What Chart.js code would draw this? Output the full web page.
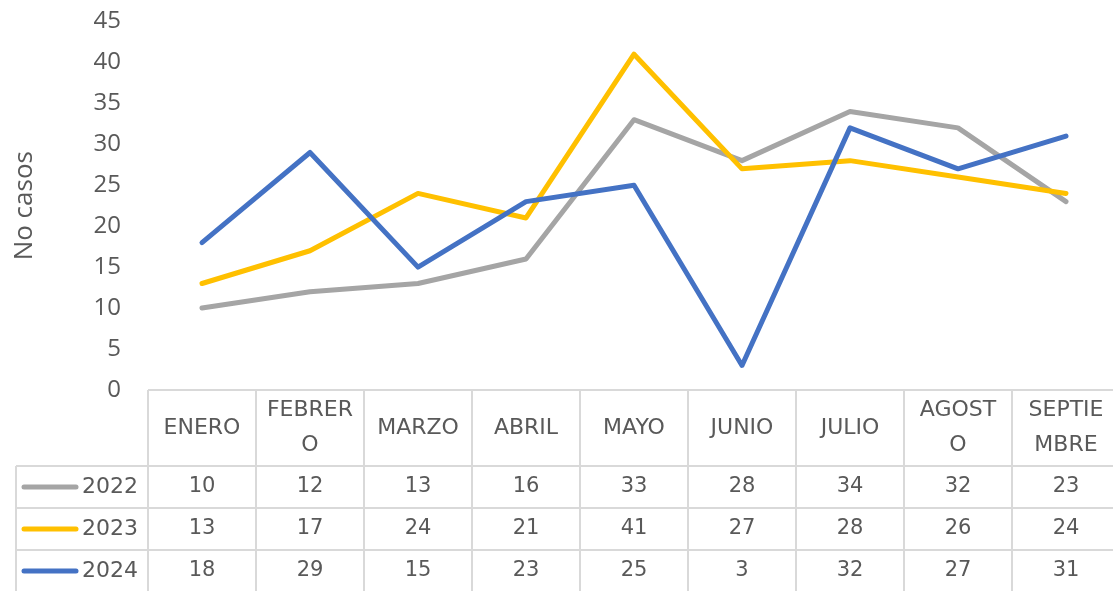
<!DOCTYPE html>
<html>
<head>
<meta charset="utf-8">
<script src="https://cdn.jsdelivr.net/npm/chart.js@4.4.0/dist/chart.umd.min.js"></script>
<style>
  body { margin: 0; background: #fff; overflow: hidden; }
  #wrap { width: 1121px; height: 611px; margin-top: -20px; }
</style>
</head>
<body>
<div id="wrap"><canvas id="canvas-chart" width="1121" height="611"></canvas></div>
<script>
const categories = ['ENERO', ['FEBRER', 'O'], 'MARZO', 'ABRIL', 'MAYO', 'JUNIO', 'JULIO', ['AGOST', 'O'], ['SEPTIE', 'MBRE']];
const years = ['2022', '2023', '2024'];
const casos2022 = [10, 12, 13, 16, 33, 28, 34, 32, 23];
const casos2023 = [13, 17, 24, 21, 41, 27, 28, 26, 24];
const casos2024 = [18, 29, 15, 23, 25, 3, 32, 27, 31];
const yMax = 45;
const yStep = 5;

const colors = ['#A5A5A5', '#FFC000', '#4472C4'];
const series = [casos2022, casos2023, casos2024];
const textColor = '#595959';
const gridColor = '#D9D9D9';
const tableFont = '"DejaVu Sans", sans-serif';

// dibuja la tabla de datos debajo del grafico
const dataTable = {
  id: 'dataTable',
  afterDraw(chart) {
    const ctx = chart.ctx;
    const area = chart.chartArea;
    const x = chart.scales.x;
    const step = x.getPixelForValue(1) - x.getPixelForValue(0);
    const top = area.bottom;
    const headH = 76;
    const rowH = 42;
    const legendLeft = 16;
    const colLeft = x.getPixelForValue(0) - step / 2;
    const right = x.getPixelForValue(categories.length - 1) + step / 2;
    const bottom = top + headH + rowH * years.length;

    ctx.save();
    ctx.strokeStyle = gridColor;
    ctx.lineWidth = 2;
    ctx.beginPath();
    ctx.moveTo(colLeft, top); ctx.lineTo(right, top);
    for (let r = 0; r <= years.length; r++) {
      const y = top + headH + r * rowH;
      ctx.moveTo(legendLeft, y); ctx.lineTo(right, y);
    }
    ctx.moveTo(legendLeft, top + headH); ctx.lineTo(legendLeft, bottom);
    for (let i = 0; i <= categories.length; i++) {
      const xx = colLeft + i * step;
      ctx.moveTo(xx, top); ctx.lineTo(xx, bottom);
    }
    ctx.stroke();

    ctx.fillStyle = textColor;
    ctx.textAlign = 'center';
    ctx.textBaseline = 'middle';
    ctx.font = '22px ' + tableFont;
    categories.forEach((c, i) => {
      const cx = x.getPixelForValue(i);
      const lines = Array.isArray(c) ? c : [c];
      const lh = 35;
      const y0 = top + headH / 2 - (lines.length - 1) * lh / 2;
      lines.forEach((t, k) => ctx.fillText(t, cx, y0 + k * lh));
    });

    series.forEach((vals, r) => {
      const cy = top + headH + r * rowH + rowH / 2;
      vals.forEach((v, i) => {
        ctx.font = '21px ' + tableFont;
        ctx.textAlign = 'center';
        ctx.fillText(String(v), x.getPixelForValue(i), cy);
      });
      ctx.strokeStyle = colors[r];
      ctx.lineWidth = 5;
      ctx.lineCap = 'round';
      ctx.beginPath();
      ctx.moveTo(24, cy); ctx.lineTo(76, cy);
      ctx.stroke();
      ctx.font = '22px ' + tableFont;
      ctx.textAlign = 'left';
      ctx.fillText(years[r], 82, cy);
    });
    ctx.restore();
  }
};

const ctx = document.getElementById('canvas-chart');

new Chart(ctx, {
  type: 'line',
  data: {
    labels: categories,
    datasets: years.map((y, i) => ({
      label: y,
      data: series[i],
      borderColor: colors[i],
      backgroundColor: colors[i],
      borderWidth: 5,
      pointRadius: 0,
      tension: 0,
      borderCapStyle: 'round',
      borderJoinStyle: 'round',
      order: years.length - i
    }))
  },
  options: {
    responsive: false,
    animation: false,
    layout: {
      padding: { top: 0, right: 1, bottom: 201, left: 0 }
    },
    scales: {
      x: {
        display: false,
        offset: true
      },
      y: {
        min: 0,
        max: yMax,
        afterFit(scale) { scale.width = 148; },
        grid: { display: false, drawTicks: false },
        border: { display: false },
        ticks: {
          stepSize: yStep,
          padding: 27,
          color: textColor,
          font: { family: '"Open Sans", sans-serif', size: 24 }
        },
        title: {
          display: true,
          text: 'No casos',
          color: textColor,
          padding: { top: 9, bottom: 0 },
          font: { family: '"Open Sans", sans-serif', size: 26 }
        }
      }
    },
    plugins: {
      legend: { display: false },
      tooltip: { enabled: false }
    }
  },
  plugins: [dataTable]
});
</script>
</body>
</html>
